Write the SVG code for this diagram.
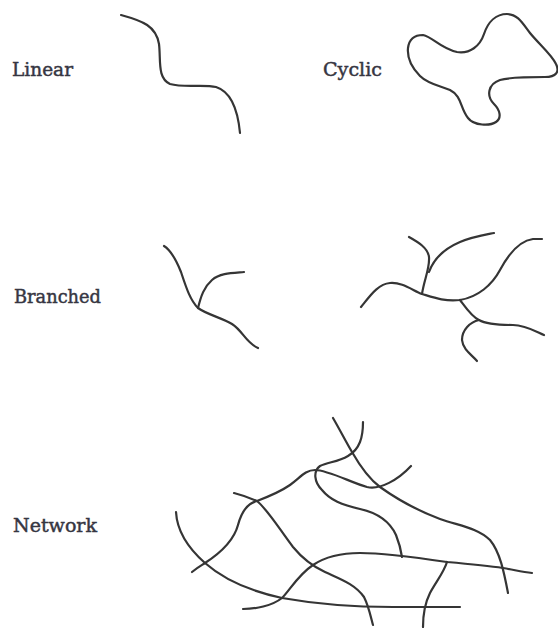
<svg xmlns="http://www.w3.org/2000/svg" width="558" height="628" viewBox="0 0 558 628">
  <style>
    .chain { fill: none; stroke: #353535; stroke-width: 2.2; stroke-linecap: round; stroke-linejoin: round; }
    .label { font-family: "DejaVu Serif", "Liberation Serif", serif; font-size: 18px; fill: #363642; stroke: #363642; stroke-width: 0.45; }
  </style>
  <rect width="558" height="628" fill="#ffffff"/>

  <!-- Linear polymer -->
  <g id="linear">
    <text class="label" x="12" y="76" textLength="61" lengthAdjust="spacingAndGlyphs">Linear</text>
    <path class="chain" d="M121,15 C143,21 156,26 159,44 C161,60 157,78 170,84 C184,88 204,84 216,87 C232,92 238,112 240,133"/>
  </g>

  <!-- Cyclic polymer -->
  <g id="cyclic">
    <text class="label" x="323" y="76" textLength="59" lengthAdjust="spacingAndGlyphs">Cyclic</text>
    <path class="chain" d="M423,35 C433,37 440,48 457,52 C470,54 480,46 484,34 C488,22 496,14 507,14 C518,14 523,24 530,33 C538,43 552,55 556,64 C560,72 556,77 545,77 C530,77 510,77 500,80 C488,84 486,96 494,104 C500,110 502,118 496,122 C490,126 474,126 468,118 C460,108 462,96 450,90 C440,86 428,84 420,76 C412,68 407,58 408,48 C409,40 414,35 423,35 Z"/>
  </g>

  <!-- Branched polymers -->
  <g id="branched">
    <text class="label" x="14" y="303" textLength="87" lengthAdjust="spacingAndGlyphs">Branched</text>
    <g id="branched-simple">
      <path class="chain" d="M164,246 C172,251 177,262 181,272 C186,287 190,300 198,308 C206,314 222,318 232,324 C243,331 246,343 258,348"/>
      <path class="chain" d="M198,308 C201,296 204,287 212,280 C220,273 232,273 244,272"/>
    </g>
    <g id="branched-multi">
      <path class="chain" d="M361,307 C370,296 378,284 390,283 C402,282 412,290 422,294 C432,297 445,302 460,300 C478,297 492,285 500,270 C508,255 518,241 533,239 L542,239"/>
      <path class="chain" d="M422,294 C424,280 430,268 429,257 C428,248 418,242 409,237"/>
      <path class="chain" d="M429,272 C434,258 446,248 460,242 C472,237 484,235 494,233"/>
      <path class="chain" d="M460,300 C466,308 472,317 479,320 C486,324 500,325 513,325 C525,325 535,331 544,335"/>
      <path class="chain" d="M479,320 C470,322 462,330 462,340 C463,350 472,355 477,361"/>
    </g>
  </g>

  <!-- Network polymer -->
  <g id="network">
    <text class="label" x="13" y="532" textLength="84" lengthAdjust="spacingAndGlyphs">Network</text>
    <path class="chain" d="M333,418 C340,430 346,442 352,452 C360,466 368,478 380,487 C394,497 416,510 440,519 C460,526 478,528 490,540 C500,552 504,572 508,593"/>
    <path class="chain" d="M363,422 C363,437 360,449 348,456 C338,462 328,462 320,466 C313,471 314,482 322,490 C330,500 342,505 360,509 C378,513 390,522 396,535 C400,545 401,550 402,557"/>
    <path class="chain" d="M176,512 C177,530 188,548 205,563 C222,578 245,590 282,598 C310,603 340,607 393,607 L460,607"/>
    <path class="chain" d="M192,572 C198,567 202,565 205,563 C222,552 234,540 238,525 C242,510 248,503 257,501 C270,496 280,492 290,485 C300,478 305,470 315,470 C328,470 352,483 367,487 C380,490 398,480 411,466"/>
    <path class="chain" d="M234,493 C242,495 250,498 257,501 C268,510 280,530 293,547 C302,558 312,566 325,572 C340,579 355,584 364,597 C369,607 371,618 373,625"/>
    <path class="chain" d="M243,609 C255,609 272,606 282,598 C290,590 298,575 313,565 C325,557 342,553 360,553 C380,553 420,558 447,562 C470,564 490,566 503,568 C515,570 522,572 532,573"/>
    <path class="chain" d="M447,562 C444,572 436,582 430,593 C425,603 423,615 423,627"/>
  </g>
</svg>
